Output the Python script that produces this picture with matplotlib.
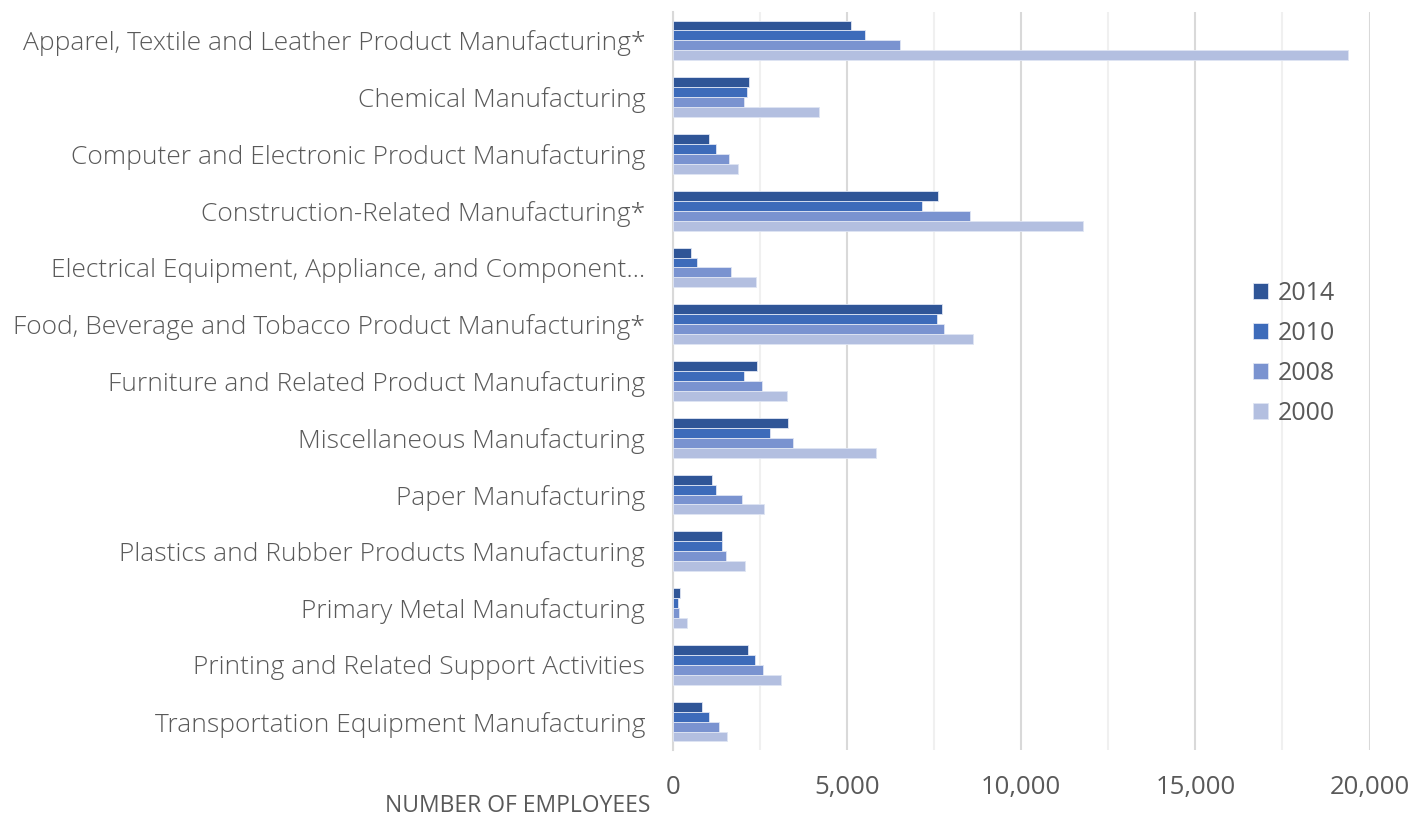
import matplotlib.pyplot as plt
import numpy as np

categories = [
    "Apparel, Textile and Leather Product Manufacturing*",
    "Chemical Manufacturing",
    "Computer and Electronic Product Manufacturing",
    "Construction-Related Manufacturing*",
    "Electrical Equipment, Appliance, and Component\u2026",
    "Food, Beverage and Tobacco Product Manufacturing*",
    "Furniture and Related Product Manufacturing",
    "Miscellaneous Manufacturing",
    "Paper Manufacturing",
    "Plastics and Rubber Products Manufacturing",
    "Primary Metal Manufacturing",
    "Printing and Related Support Activities",
    "Transportation Equipment Manufacturing",
]
years = ["2014", "2010", "2008", "2000"]
emp_2014 = [5100, 2170, 1030, 7600, 510, 7730, 2420, 3300, 1110, 1400, 200, 2140, 830]
emp_2010 = [5500, 2120, 1225, 7150, 690, 7570, 2040, 2780, 1230, 1415, 140, 2355, 1020]
emp_2008 = [6520, 2030, 1605, 8515, 1675, 7790, 2565, 3450, 1970, 1520, 175, 2595, 1310]
emp_2000 = [19370, 4200, 1875, 11765, 2395, 8610, 3275, 5835, 2625, 2065, 390, 3100, 1560]
series = [emp_2014, emp_2010, emp_2008, emp_2000]
colors = ["#2F5597", "#3D6BBA", "#7A93D0", "#B3BFE0"]

plt.rcParams['font.family'] = ['Open Sans', 'DejaVu Sans']

fig = plt.figure(figsize=(14.11, 8.17), dpi=100)
ax = fig.add_axes([673 / 1411, 1 - 750 / 817, (1369.5 - 673) / 1411, (750 - 12) / 817])

y = np.arange(len(categories))
h = 0.175
for i, (vals, col, yr) in enumerate(zip(series, colors, years)):
    ax.barh(y - 1.5 * h + i * h, vals, height=h, color=col, label=yr,
            edgecolor="#dfe5f3", linewidth=0.6, zorder=3)

ax.set_xlim(0, 20000)
ax.set_ylim(len(categories) - 0.5, -0.5)
ax.set_yticks(y)
ax.set_yticklabels(categories, fontsize=19, color="#595959", fontweight="light")
ax.set_xticks([0, 5000, 10000, 15000, 20000])
ax.set_xticklabels(["0", "5,000", "10,000", "15,000", "20,000"], fontsize=18.5, color="#595959")
ax.set_xticks(np.arange(2500, 20000, 5000), minor=True)
ax.grid(axis="x", which="major", color="#d9d9d9", linewidth=1.5, zorder=0)
ax.grid(axis="x", which="minor", color="#f0f0f0", linewidth=1.5, zorder=0)
ax.tick_params(axis="y", length=0, pad=20)
ax.tick_params(axis="x", which="both", length=0, pad=18)
for s in ["top", "right", "bottom"]:
    ax.spines[s].set_visible(False)
ax.spines["left"].set_color("#d9d9d9")
ax.spines["left"].set_linewidth(1.5)

leg = ax.legend(loc="upper left", bbox_to_anchor=(1240 / 1411, 1 - 268 / 817),
                bbox_transform=fig.transFigure, frameon=False, fontsize=18,
                labelspacing=0.6, handlelength=0.6, handleheight=0.6,
                handletextpad=0.4, borderpad=0)
for t in leg.get_texts():
    t.set_color("#595959")

fig.text(385 / 1411, 1 - 806 / 817, "NUMBER OF EMPLOYEES", fontsize=16.5,
         color="#595959", va="center", ha="left")

fig.savefig("out.png", dpi=100)
